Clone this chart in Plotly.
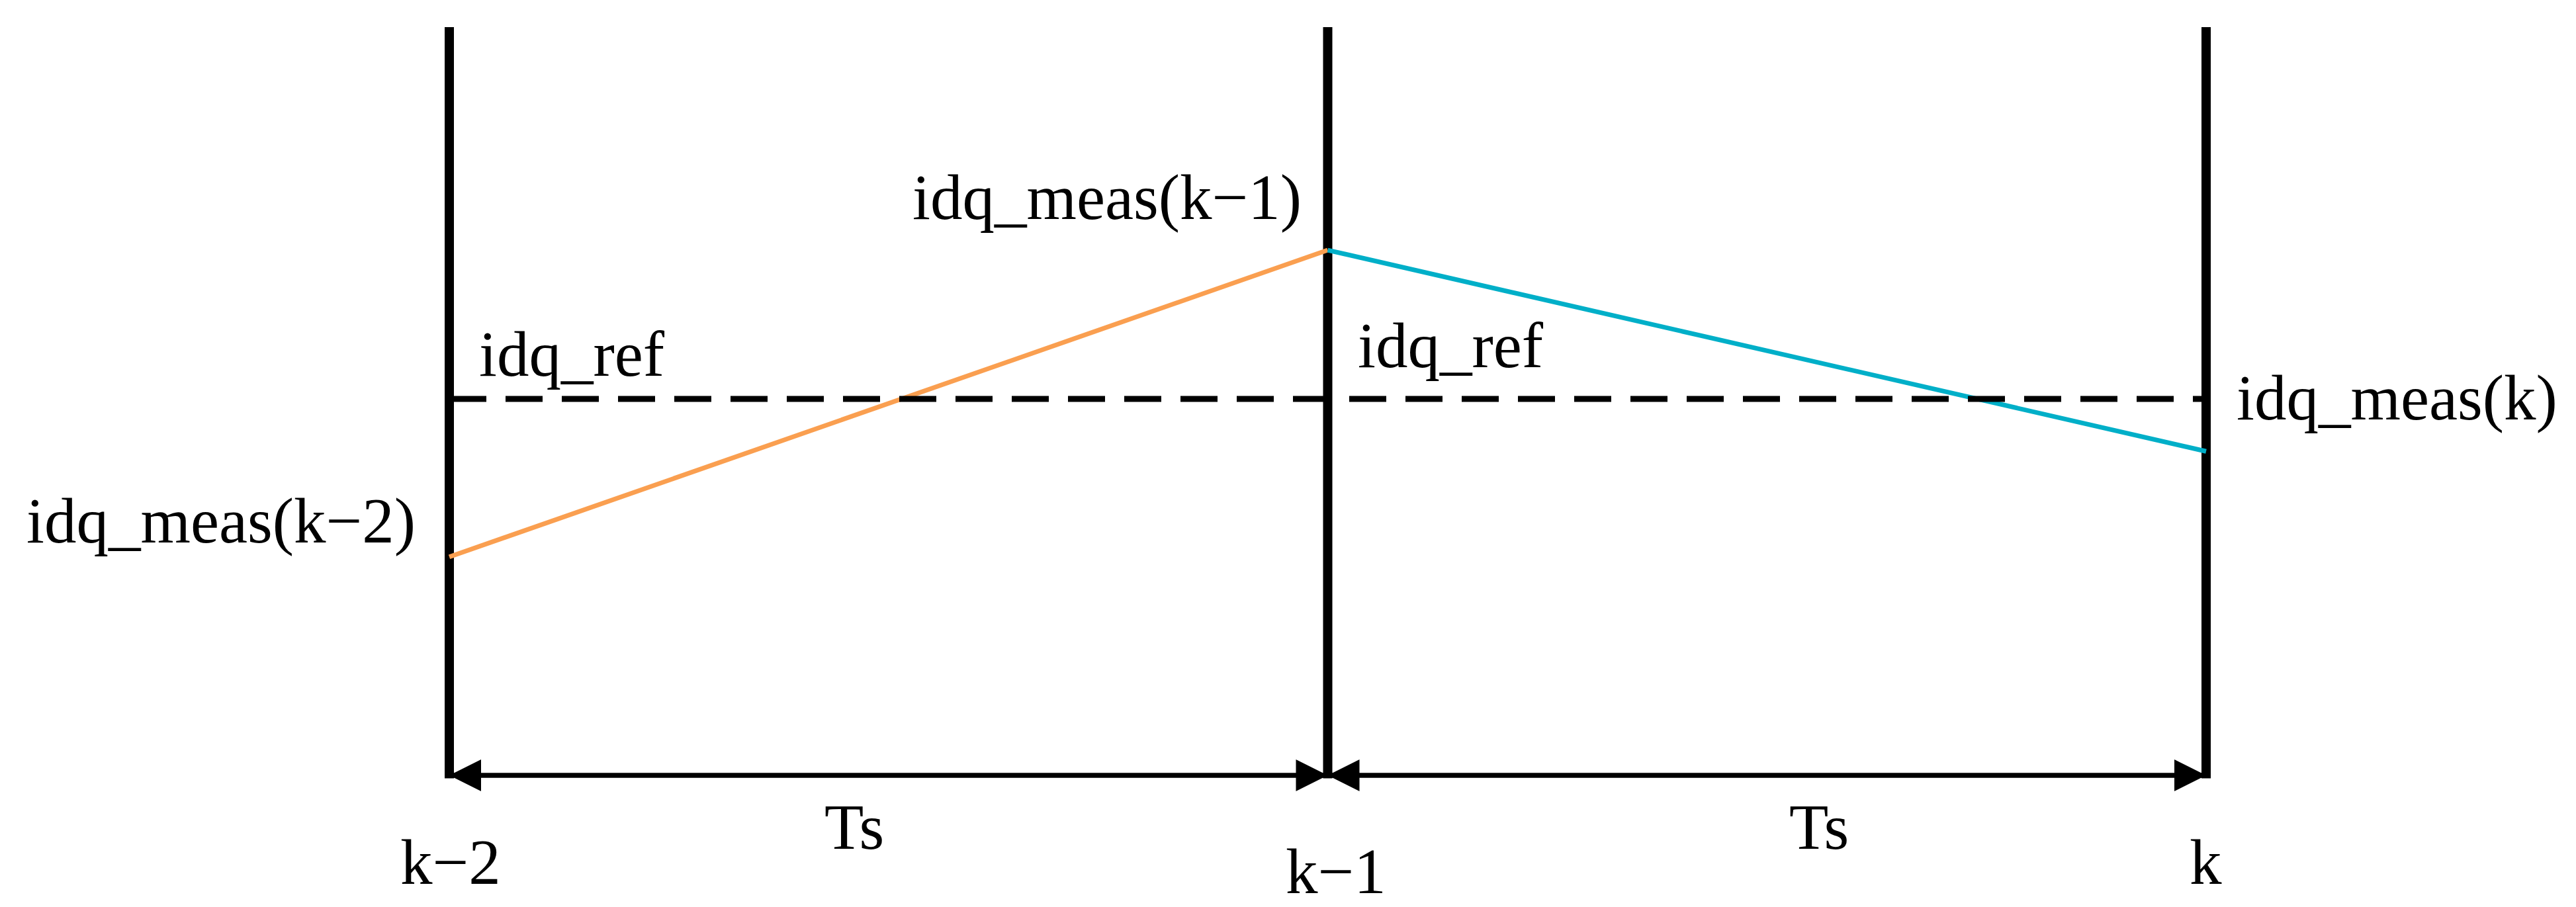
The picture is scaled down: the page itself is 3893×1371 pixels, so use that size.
import plotly.graph_objects as go

# sampling instants (k-2, k-1, k) and their labels
steps = [0, 1, 2]
step_labels = ["k−2", "k−1", "k"]

# current values (normalised, 0 = time axis, 1 = top of the instant markers)
idq_ref = 0.503
idq_meas = [0.292, 0.702, 0.433]
meas_labels = ["idq_meas(k−2)", "idq_meas(k−1)", "idq_meas(k)"]
ref_label = "idq_ref"
period_label = "Ts"

ORANGE = "#FA9F50"
CYAN = "#00AFC8"
FONT = dict(family="Liberation Serif, Times New Roman, serif", size=97, color="black")

fig = go.Figure()

# -------------------------------
# vertical lines at each sampling instant
# -------------------------------
for s in steps:
    fig.add_trace(go.Scatter(
        x=[s, s], y=[-0.004, 1.0], mode="lines",
        line=dict(color="black", width=14), hoverinfo="skip"
    ))

# -------------------------------
# measured current between instants
# -------------------------------
fig.add_trace(go.Scatter(
    x=steps[0:2], y=idq_meas[0:2], mode="lines",
    line=dict(color=ORANGE, width=7), hoverinfo="skip"
))
fig.add_trace(go.Scatter(
    x=steps[1:3], y=idq_meas[1:3], mode="lines",
    line=dict(color=CYAN, width=7), hoverinfo="skip"
))

# reference (dashed)
fig.add_trace(go.Scatter(
    x=[steps[0], steps[-1]], y=[idq_ref, idq_ref], mode="lines",
    line=dict(color="black", width=9, dash="56px,29px"), hoverinfo="skip"
))

# -------------------------------
# Ts arrows along the time axis
# -------------------------------
for a, b in zip(steps[:-1], steps[1:]):
    fig.add_trace(go.Scatter(
        x=[a, b], y=[0, 0], mode="lines",
        line=dict(color="black", width=7.5), hoverinfo="skip"
    ))
    fig.add_trace(go.Scatter(
        x=[a, b], y=[0, 0], mode="markers",
        marker=dict(symbol=["arrow-left", "arrow-right"], size=48, color="black",
                    line=dict(width=0)),
        hoverinfo="skip"
    ))

# -------------------------------
# labels
# -------------------------------
def label(text, x, y, xanchor, xshift, yshift):
    fig.add_annotation(
        text=text, x=x, y=y, xref="x", yref="y", showarrow=False,
        xanchor=xanchor, yanchor="middle", xshift=xshift, yshift=yshift,
        font=FONT
    )

label(meas_labels[0], steps[0], idq_meas[0], "right", -49, 54)
label(meas_labels[1], steps[1], idq_meas[1], "right", -38, 80)
label(meas_labels[2], steps[2], idq_meas[2], "left", 44, 81)

label(ref_label, steps[0], idq_ref, "left", 43, 68)
label(ref_label, steps[1], idq_ref, "left", 43, 81)

label(step_labels[0], steps[0], 0, "center", 2, -131)
label(step_labels[1], steps[1], 0, "center", 12, -145)
label(step_labels[2], steps[2], 0, "center", -1, -131)

label(period_label, (steps[0] + steps[1]) / 2, 0, "center", -52, -78)
label(period_label, (steps[1] + steps[2]) / 2, 0, "center", 79, -78)

fig.update_layout(
    width=3893, height=1371,
    margin=dict(l=0, r=0, t=0, b=0),
    paper_bgcolor="white", plot_bgcolor="white",
    showlegend=False,
    xaxis=dict(visible=False, range=[-0.50546, 2.42712], fixedrange=True),
    yaxis=dict(visible=False, range=[-0.18302, 1.02918], fixedrange=True),
)

fig.write_html("out.html")
